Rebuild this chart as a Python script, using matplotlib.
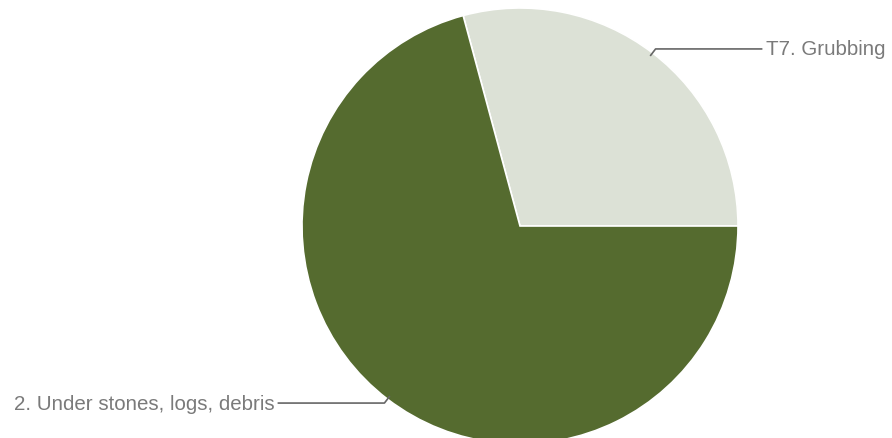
import numpy as np
import matplotlib
matplotlib.use("Agg")
import matplotlib.pyplot as plt

# slice data (light slice first, counter-clockwise from 3 o'clock)
labels = ["T7. Grubbing", "2. Under stones, logs, debris"]
shares = [29.2, 70.8]
colors = ["#DCE1D6", "#556B2F"]

W, H = 892, 439
fig = plt.figure(figsize=(W / 100, H / 100), dpi=100)
ax = fig.add_axes([0, 0, 1, 1])

# pie geometry in pixel coords (y up)
cx, cy, r = 520, H - 227, 218

wedges, _ = ax.pie(shares, colors=colors, startangle=0, counterclock=True,
                   center=(cx, cy), radius=r, frame=True,
                   wedgeprops=dict(edgecolor="white", linewidth=1.2))

ax.set_xlim(0, W)
ax.set_ylim(0, H)
ax.set_aspect("auto")
ax.axis("off")

# leader lines + labels
for w, lab in zip(wedges, labels):
    mid = np.deg2rad((w.theta1 + w.theta2) / 2)
    ex, ey = cx + (r - 3) * np.cos(mid), cy + (r - 3) * np.sin(mid)
    kx, ky = cx + (r + 5) * np.cos(mid), cy + (r + 5) * np.sin(mid)
    side = 1 if np.cos(mid) > 0 else -1
    hx = kx + side * 106
    ax.plot([ex, kx, hx], [ey, ky, ky], color="#666666", linewidth=1.2,
            solid_joinstyle="round")
    ax.text(hx + side * 4, ky, lab, ha="left" if side > 0 else "right",
            va="center", fontsize=14.8, color="#7a7a7a",
            family=["Liberation Sans", "DejaVu Sans"])

fig.savefig("out.png", dpi=100)
